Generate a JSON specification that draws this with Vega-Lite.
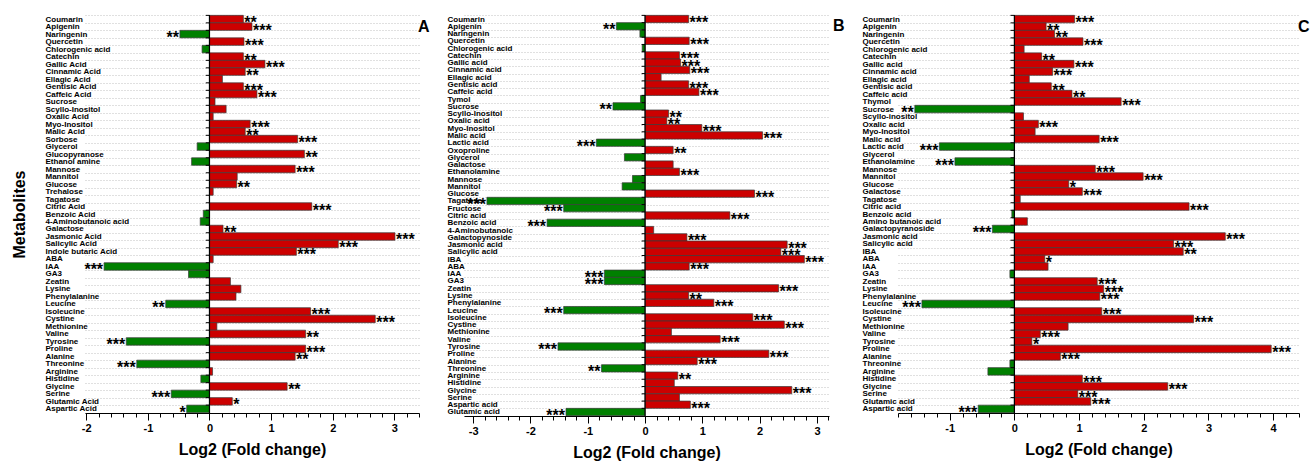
{
  "$schema": "https://vega.github.io/schema/vega-lite/v6.json",
  "padding": {"left": 11, "top": 11, "right": 5, "bottom": 5},
  "config": {
    "font": "Liberation Sans",
    "view": {"stroke": null},
    "axis": {"labelColor": "black", "titleColor": "black", "labelFontWeight": "bold", "titleFontWeight": "bold"},
    "axisX": {"labelOverlap": false, "labelFlush": false, "grid": false, "domainColor": "black", "tickColor": "black", "labelFontSize": 11, "labelPadding": 2, "titleFontSize": 16, "titlePadding": 8}
  },
  "datasets": {
    "A": [
      {"metabolite": "Coumarin", "value": 0.55, "sig": "**"},
      {"metabolite": "Apigenin", "value": 0.69, "sig": "***"},
      {"metabolite": "Naringenin", "value": -0.48, "sig": "**"},
      {"metabolite": "Quercetin", "value": 0.56, "sig": "***"},
      {"metabolite": "Chlorogenic acid", "value": -0.12, "sig": ""},
      {"metabolite": "Catechin", "value": 0.55, "sig": "**"},
      {"metabolite": "Gallic Acid", "value": 0.90, "sig": "***"},
      {"metabolite": "Cinnamic Acid", "value": 0.58, "sig": "**"},
      {"metabolite": "Ellagic Acid", "value": 0.21, "sig": ""},
      {"metabolite": "Gentisic Acid", "value": 0.55, "sig": "***"},
      {"metabolite": "Caffeic Acid", "value": 0.77, "sig": "***"},
      {"metabolite": "Sucrose", "value": 0.09, "sig": ""},
      {"metabolite": "Scyllo-Inositol", "value": 0.27, "sig": ""},
      {"metabolite": "Oxalic Acid", "value": 0.06, "sig": ""},
      {"metabolite": "Myo-Inositol", "value": 0.66, "sig": "***"},
      {"metabolite": "Malic Acid", "value": 0.58, "sig": "**"},
      {"metabolite": "Sorbose", "value": 1.43, "sig": "***"},
      {"metabolite": "Glycerol", "value": -0.20, "sig": ""},
      {"metabolite": "Glucopyranose", "value": 1.54, "sig": "**"},
      {"metabolite": "Ethanol amine", "value": -0.29, "sig": ""},
      {"metabolite": "Mannose", "value": 1.39, "sig": "***"},
      {"metabolite": "Mannitol", "value": 0.45, "sig": ""},
      {"metabolite": "Glucose", "value": 0.44, "sig": "**"},
      {"metabolite": "Trehalose", "value": 0.06, "sig": ""},
      {"metabolite": "Tagatose", "value": 0, "sig": ""},
      {"metabolite": "Citric Acid", "value": 1.66, "sig": "***"},
      {"metabolite": "Benzoic Acid", "value": -0.10, "sig": ""},
      {"metabolite": "4-Aminobutanoic acid", "value": -0.15, "sig": ""},
      {"metabolite": "Galactose", "value": 0.22, "sig": "**"},
      {"metabolite": "Jasmonic Acid", "value": 3.01, "sig": "***"},
      {"metabolite": "Salicylic Acid", "value": 2.09, "sig": "***"},
      {"metabolite": "Indole butaric Acid", "value": 1.41, "sig": "***"},
      {"metabolite": "ABA", "value": 0.06, "sig": ""},
      {"metabolite": "IAA", "value": -1.71, "sig": "***"},
      {"metabolite": "GA3", "value": -0.34, "sig": ""},
      {"metabolite": "Zeatin", "value": 0.34, "sig": ""},
      {"metabolite": "Lysine", "value": 0.51, "sig": ""},
      {"metabolite": "Phenylalanine", "value": 0.43, "sig": ""},
      {"metabolite": "Leucine", "value": -0.71, "sig": "**"},
      {"metabolite": "Isoleucine", "value": 1.64, "sig": "***"},
      {"metabolite": "Cystine", "value": 2.69, "sig": "***"},
      {"metabolite": "Methionine", "value": 0.12, "sig": ""},
      {"metabolite": "Valine", "value": 1.56, "sig": "**"},
      {"metabolite": "Tyrosine", "value": -1.35, "sig": "***"},
      {"metabolite": "Proline", "value": 1.56, "sig": "***"},
      {"metabolite": "Alanine", "value": 1.39, "sig": "**"},
      {"metabolite": "Threonine", "value": -1.18, "sig": "***"},
      {"metabolite": "Arginine", "value": 0.05, "sig": ""},
      {"metabolite": "Histidine", "value": -0.14, "sig": ""},
      {"metabolite": "Glycine", "value": 1.26, "sig": "**"},
      {"metabolite": "Serine", "value": -0.62, "sig": "***"},
      {"metabolite": "Glutamic Acid", "value": 0.37, "sig": "*"},
      {"metabolite": "Aspartic Acid", "value": -0.37, "sig": "*"}
    ],
    "B": [
      {"metabolite": "Coumarin", "value": 0.76, "sig": "***"},
      {"metabolite": "Apigenin", "value": -0.50, "sig": "**"},
      {"metabolite": "Naringenin", "value": -0.09, "sig": ""},
      {"metabolite": "Quercetin", "value": 0.77, "sig": "***"},
      {"metabolite": "Chlorogenic acid", "value": -0.05, "sig": ""},
      {"metabolite": "Catechin", "value": 0.60, "sig": "***"},
      {"metabolite": "Gallic acid", "value": 0.62, "sig": "***"},
      {"metabolite": "Cinnamic acid", "value": 0.78, "sig": "***"},
      {"metabolite": "Ellagic acid", "value": 0.28, "sig": ""},
      {"metabolite": "Gentisic acid", "value": 0.76, "sig": "***"},
      {"metabolite": "Caffeic acid", "value": 0.94, "sig": "***"},
      {"metabolite": "Tymol", "value": -0.08, "sig": ""},
      {"metabolite": "Sucrose", "value": -0.56, "sig": "**"},
      {"metabolite": "Scyllo-Inositol", "value": 0.41, "sig": "**"},
      {"metabolite": "Oxalic acid", "value": 0.38, "sig": "**"},
      {"metabolite": "Myo-Inositol", "value": 0.99, "sig": "***"},
      {"metabolite": "Malic acid", "value": 2.05, "sig": "***"},
      {"metabolite": "Lactic acid", "value": -0.85, "sig": "***"},
      {"metabolite": "Oxoproline", "value": 0.49, "sig": "**"},
      {"metabolite": "Glycerol", "value": -0.36, "sig": ""},
      {"metabolite": "Galactose", "value": 0.49, "sig": ""},
      {"metabolite": "Ethanolamine", "value": 0.60, "sig": "***"},
      {"metabolite": "Mannose", "value": -0.22, "sig": ""},
      {"metabolite": "Mannitol", "value": -0.40, "sig": ""},
      {"metabolite": "Glucose", "value": 1.91, "sig": "***"},
      {"metabolite": "Tagatose", "value": -2.76, "sig": "***"},
      {"metabolite": "Fructose", "value": -1.42, "sig": "***"},
      {"metabolite": "Citric acid", "value": 1.48, "sig": "***"},
      {"metabolite": "Benzoic acid", "value": -1.71, "sig": "***"},
      {"metabolite": "4-Aminobutanoic", "value": 0.15, "sig": ""},
      {"metabolite": "Galactopynoside", "value": 0.73, "sig": "***"},
      {"metabolite": "Jasmonic acid", "value": 2.48, "sig": "***"},
      {"metabolite": "Salicylic acid", "value": 2.37, "sig": "***"},
      {"metabolite": "IBA", "value": 2.78, "sig": "***"},
      {"metabolite": "ABA", "value": 0.77, "sig": "***"},
      {"metabolite": "IAA", "value": -0.71, "sig": "***"},
      {"metabolite": "GA3", "value": -0.71, "sig": "***"},
      {"metabolite": "Zeatin", "value": 2.33, "sig": "***"},
      {"metabolite": "Lysine", "value": 0.76, "sig": "**"},
      {"metabolite": "Phenylalanine", "value": 1.20, "sig": "***"},
      {"metabolite": "Leucine", "value": -1.42, "sig": "***"},
      {"metabolite": "Isoleucine", "value": 1.88, "sig": "***"},
      {"metabolite": "Cystine", "value": 2.43, "sig": "***"},
      {"metabolite": "Methionine", "value": 0.46, "sig": ""},
      {"metabolite": "Valine", "value": 1.31, "sig": "***"},
      {"metabolite": "Tyrosine", "value": -1.52, "sig": "***"},
      {"metabolite": "Proline", "value": 2.16, "sig": "***"},
      {"metabolite": "Alanine", "value": 0.91, "sig": "***"},
      {"metabolite": "Threonine", "value": -0.76, "sig": "**"},
      {"metabolite": "Arginine", "value": 0.57, "sig": "**"},
      {"metabolite": "Histidine", "value": 0.51, "sig": ""},
      {"metabolite": "Glycine", "value": 2.56, "sig": "***"},
      {"metabolite": "Serine", "value": 0.60, "sig": ""},
      {"metabolite": "Aspartic acid", "value": 0.79, "sig": "***"},
      {"metabolite": "Glutamic acid", "value": -1.38, "sig": "***"}
    ],
    "C": [
      {"metabolite": "Coumarin", "value": 0.93, "sig": "***"},
      {"metabolite": "Apigenin", "value": 0.49, "sig": "**"},
      {"metabolite": "Naringenin", "value": 0.62, "sig": "**"},
      {"metabolite": "Quercetin", "value": 1.06, "sig": "***"},
      {"metabolite": "Chlorogenic acid", "value": 0.15, "sig": ""},
      {"metabolite": "Catechin", "value": 0.42, "sig": "**"},
      {"metabolite": "Gallic acid", "value": 0.92, "sig": "***"},
      {"metabolite": "Cinnamic acid", "value": 0.59, "sig": "***"},
      {"metabolite": "Ellagic acid", "value": 0.23, "sig": ""},
      {"metabolite": "Gentisic acid", "value": 0.57, "sig": "**"},
      {"metabolite": "Caffeic acid", "value": 0.89, "sig": "**"},
      {"metabolite": "Thymol", "value": 1.65, "sig": "***"},
      {"metabolite": "Sucrose", "value": -1.54, "sig": "**"},
      {"metabolite": "Scyllo-inositol", "value": 0.14, "sig": ""},
      {"metabolite": "Oxalic acid", "value": 0.37, "sig": "***"},
      {"metabolite": "Myo-Inositol", "value": 0.32, "sig": ""},
      {"metabolite": "Malic acid", "value": 1.31, "sig": "***"},
      {"metabolite": "Lactic acid", "value": -1.16, "sig": "***"},
      {"metabolite": "Glycerol", "value": 0, "sig": ""},
      {"metabolite": "Ethanolamine", "value": -0.92, "sig": "***"},
      {"metabolite": "Mannose", "value": 1.25, "sig": "***"},
      {"metabolite": "Mannitol", "value": 1.99, "sig": "***"},
      {"metabolite": "Glucose", "value": 0.84, "sig": "*"},
      {"metabolite": "Galactose", "value": 1.05, "sig": "***"},
      {"metabolite": "Tagatose", "value": 0.09, "sig": ""},
      {"metabolite": "Citric acid", "value": 2.70, "sig": "***"},
      {"metabolite": "Benzoic acid", "value": -0.04, "sig": ""},
      {"metabolite": "Amino butanoic acid", "value": 0.20, "sig": ""},
      {"metabolite": "Galactopyranoside", "value": -0.34, "sig": "***"},
      {"metabolite": "Jasmonic acid", "value": 3.26, "sig": "***"},
      {"metabolite": "Salicylic acid", "value": 2.46, "sig": "***"},
      {"metabolite": "IBA", "value": 2.61, "sig": "**"},
      {"metabolite": "ABA", "value": 0.47, "sig": "*"},
      {"metabolite": "IAA", "value": 0.52, "sig": ""},
      {"metabolite": "GA3", "value": -0.07, "sig": ""},
      {"metabolite": "Zeatin", "value": 1.28, "sig": "***"},
      {"metabolite": "Lysine", "value": 1.38, "sig": "***"},
      {"metabolite": "Phenylalanine", "value": 1.32, "sig": "***"},
      {"metabolite": "Leucine", "value": -1.43, "sig": "***"},
      {"metabolite": "Isoleucine", "value": 1.35, "sig": "***"},
      {"metabolite": "Cystine", "value": 2.77, "sig": "***"},
      {"metabolite": "Methionine", "value": 0.83, "sig": ""},
      {"metabolite": "Valine", "value": 0.40, "sig": "***"},
      {"metabolite": "Tyrosine", "value": 0.27, "sig": "*"},
      {"metabolite": "Proline", "value": 3.97, "sig": "***"},
      {"metabolite": "Alanine", "value": 0.71, "sig": "***"},
      {"metabolite": "Threonine", "value": -0.07, "sig": ""},
      {"metabolite": "Arginine", "value": -0.41, "sig": ""},
      {"metabolite": "Histidine", "value": 1.05, "sig": "***"},
      {"metabolite": "Glycine", "value": 2.37, "sig": "***"},
      {"metabolite": "Serine", "value": 0.98, "sig": "***"},
      {"metabolite": "Glutamic acid", "value": 1.18, "sig": "***"},
      {"metabolite": "Aspartic acid", "value": -0.56, "sig": "***"}
    ]
  },
  "spacing": 17,
  "hconcat": [
    {
      "width": 334, "height": 398,
      "data": {"name": "A"},
      "resolve": {"axis": {"x": "independent"}},
      "layer": [
        {
          "mark": {"type": "bar", "stroke": "#3a3a3a", "strokeWidth": 0.7},
          "encoding": {
            "y": {"field": "metabolite", "type": "nominal", "sort": null,
              "scale": {"paddingInner": 0, "paddingOuter": 0.05},
              "axis": {"title": "Metabolites", "titleFontSize": 16, "titlePadding": 18, "labelAlign": "left", "labelPadding": 40, "ticks": false, "domain": false, "grid": true, "tickBand": "extent", "gridDash": [1, 2], "gridColor": "#b0b0b0", "gridWidth": 0.8, "labelFontSize": 8, "labelOverlap": false, "labelLimit": 0}},
            "x": {"field": "value", "type": "quantitative",
              "scale": {"domain": [-2.02, 3.4], "nice": false, "zero": false},
              "axis": {"title": "Log2 (Fold change)", "values": [-2, -1, 0, 1, 2, 3], "format": "d", "labelExpr": "'' + datum.value", "tickSize": 7}},
            "color": {"condition": {"test": "datum.value < 0", "value": "#008000"}, "value": "#cc0000"}
          }
        },
        {"data": {"values": [{}]}, "mark": {"type": "rule", "color": "black", "strokeWidth": 1.2}, "encoding": {"x": {"datum": 0, "axis": null}}},
        {"mark": {"type": "rule", "color": "black", "strokeWidth": 1}, "encoding": {"y": {"field": "metabolite", "type": "nominal", "sort": null, "bandPosition": 0}, "x": {"datum": -0.06, "axis": null}, "x2": {"datum": 0}}},
        {"transform": [{"filter": "datum.value >= 0 && datum.sig != ''"}], "mark": {"type": "text", "align": "left", "baseline": "alphabetic", "dx": 1, "dy": 9, "fontSize": 16, "fontWeight": "bold", "color": "black"}, "encoding": {"y": {"field": "metabolite", "type": "nominal", "sort": null}, "x": {"field": "value", "type": "quantitative", "axis": {"orient": "bottom", "title": null, "labels": false, "domain": false, "tickSize": 4, "values": [-1.8, -1.6, -1.4, -1.2, -0.8, -0.6, -0.4, -0.2, 0.2, 0.4, 0.6, 0.8, 1.2, 1.4, 1.6, 1.8, 2.2, 2.4, 2.6, 2.8, 3.2, 3.4]}}, "text": {"field": "sig"}}},
        {"transform": [{"filter": "datum.value < 0 && datum.sig != ''"}], "mark": {"type": "text", "align": "right", "baseline": "alphabetic", "dx": -1, "dy": 9, "fontSize": 16, "fontWeight": "bold", "color": "black"}, "encoding": {"y": {"field": "metabolite", "type": "nominal", "sort": null}, "x": {"field": "value", "type": "quantitative", "axis": null}, "text": {"field": "sig"}}},
        {"transform": [{"filter": "datum.metabolite === 'Apigenin'"}], "mark": {"type": "text", "text": "A", "align": "left", "baseline": "middle", "dx": -1, "fontSize": 16, "fontWeight": "bold", "color": "black"}, "encoding": {"y": {"field": "metabolite", "type": "nominal", "sort": null}, "x": {"datum": 3.4, "axis": null}}}
      ]
    },
    {
      "width": 365, "height": 401,
      "data": {"name": "B"},
      "resolve": {"axis": {"x": "independent"}},
      "layer": [
        {
          "mark": {"type": "bar", "stroke": "#3a3a3a", "strokeWidth": 0.7},
          "encoding": {
            "y": {"field": "metabolite", "type": "nominal", "sort": null,
              "scale": {"paddingInner": 0, "paddingOuter": 0.05},
              "axis": {"title": null, "labelAlign": "left", "labelPadding": 17, "ticks": false, "domain": false, "grid": true, "tickBand": "extent", "gridDash": [1, 2], "gridColor": "#b0b0b0", "gridWidth": 0.8, "labelFontSize": 8, "labelOverlap": false, "labelLimit": 0}},
            "x": {"field": "value", "type": "quantitative",
              "scale": {"domain": [-3.16, 3.21], "nice": false, "zero": false},
              "axis": {"title": "Log2 (Fold change)", "values": [-3, -2, -1, 0, 1, 2, 3], "format": "d", "labelExpr": "'' + datum.value", "tickSize": 7}},
            "color": {"condition": {"test": "datum.value < 0", "value": "#008000"}, "value": "#cc0000"}
          }
        },
        {"data": {"values": [{}]}, "mark": {"type": "rule", "color": "black", "strokeWidth": 1.2}, "encoding": {"x": {"datum": 0, "axis": null}}},
        {"mark": {"type": "rule", "color": "black", "strokeWidth": 1}, "encoding": {"y": {"field": "metabolite", "type": "nominal", "sort": null, "bandPosition": 0}, "x": {"datum": -0.06, "axis": null}, "x2": {"datum": 0}}},
        {"transform": [{"filter": "datum.value >= 0 && datum.sig != ''"}], "mark": {"type": "text", "align": "left", "baseline": "alphabetic", "dx": 1, "dy": 9, "fontSize": 16, "fontWeight": "bold", "color": "black"}, "encoding": {"y": {"field": "metabolite", "type": "nominal", "sort": null}, "x": {"field": "value", "type": "quantitative", "axis": {"orient": "bottom", "title": null, "labels": false, "domain": false, "tickSize": 4, "values": [-2.8, -2.6, -2.4, -2.2, -1.8, -1.6, -1.4, -1.2, -0.8, -0.6, -0.4, -0.2, 0.2, 0.4, 0.6, 0.8, 1.2, 1.4, 1.6, 1.8, 2.2, 2.4, 2.6, 2.8, 3.2]}}, "text": {"field": "sig"}}},
        {"transform": [{"filter": "datum.value < 0 && datum.sig != ''"}], "mark": {"type": "text", "align": "right", "baseline": "alphabetic", "dx": -1, "dy": 9, "fontSize": 16, "fontWeight": "bold", "color": "black"}, "encoding": {"y": {"field": "metabolite", "type": "nominal", "sort": null}, "x": {"field": "value", "type": "quantitative", "axis": null}, "text": {"field": "sig"}}},
        {"transform": [{"filter": "datum.metabolite === 'Apigenin'"}], "mark": {"type": "text", "text": "B", "align": "left", "baseline": "middle", "dx": 4, "fontSize": 16, "fontWeight": "bold", "color": "black"}, "encoding": {"y": {"field": "metabolite", "type": "nominal", "sort": null}, "x": {"datum": 3.21, "axis": null}}}
      ]
    },
    {
      "width": 401, "height": 398,
      "data": {"name": "C"},
      "resolve": {"axis": {"x": "independent"}},
      "layer": [
        {
          "mark": {"type": "bar", "stroke": "#3a3a3a", "strokeWidth": 0.7},
          "encoding": {
            "y": {"field": "metabolite", "type": "nominal", "sort": null,
              "scale": {"paddingInner": 0, "paddingOuter": 0.05},
              "axis": {"title": null, "labelAlign": "left", "labelPadding": 36, "ticks": false, "domain": false, "grid": true, "tickBand": "extent", "gridDash": [1, 2], "gridColor": "#b0b0b0", "gridWidth": 0.8, "labelFontSize": 8, "labelOverlap": false, "labelLimit": 0}},
            "x": {"field": "value", "type": "quantitative",
              "scale": {"domain": [-1.8, 4.4], "nice": false, "zero": false},
              "axis": {"title": "Log2 (Fold change)", "values": [-1, 0, 1, 2, 3, 4], "format": "d", "labelExpr": "'' + datum.value", "tickSize": 7}},
            "color": {"condition": {"test": "datum.value < 0", "value": "#008000"}, "value": "#cc0000"}
          }
        },
        {"data": {"values": [{}]}, "mark": {"type": "rule", "color": "black", "strokeWidth": 1.2}, "encoding": {"x": {"datum": 0, "axis": null}}},
        {"mark": {"type": "rule", "color": "black", "strokeWidth": 1}, "encoding": {"y": {"field": "metabolite", "type": "nominal", "sort": null, "bandPosition": 0}, "x": {"datum": -0.06, "axis": null}, "x2": {"datum": 0}}},
        {"transform": [{"filter": "datum.value >= 0 && datum.sig != ''"}], "mark": {"type": "text", "align": "left", "baseline": "alphabetic", "dx": 1, "dy": 9, "fontSize": 16, "fontWeight": "bold", "color": "black"}, "encoding": {"y": {"field": "metabolite", "type": "nominal", "sort": null}, "x": {"field": "value", "type": "quantitative", "axis": {"orient": "bottom", "title": null, "labels": false, "domain": false, "tickSize": 4, "values": [-1.8, -1.6, -1.4, -1.2, -0.8, -0.6, -0.4, -0.2, 0.2, 0.4, 0.6, 0.8, 1.2, 1.4, 1.6, 1.8, 2.2, 2.4, 2.6, 2.8, 3.2, 3.4, 3.6, 3.8, 4.2, 4.4]}}, "text": {"field": "sig"}}},
        {"transform": [{"filter": "datum.value < 0 && datum.sig != ''"}], "mark": {"type": "text", "align": "right", "baseline": "alphabetic", "dx": -1, "dy": 9, "fontSize": 16, "fontWeight": "bold", "color": "black"}, "encoding": {"y": {"field": "metabolite", "type": "nominal", "sort": null}, "x": {"field": "value", "type": "quantitative", "axis": null}, "text": {"field": "sig"}}},
        {"transform": [{"filter": "datum.metabolite === 'Apigenin'"}], "mark": {"type": "text", "text": "C", "align": "left", "baseline": "middle", "dx": -1, "fontSize": 16, "fontWeight": "bold", "color": "black"}, "encoding": {"y": {"field": "metabolite", "type": "nominal", "sort": null}, "x": {"datum": 4.4, "axis": null}}}
      ]
    }
  ]
}
